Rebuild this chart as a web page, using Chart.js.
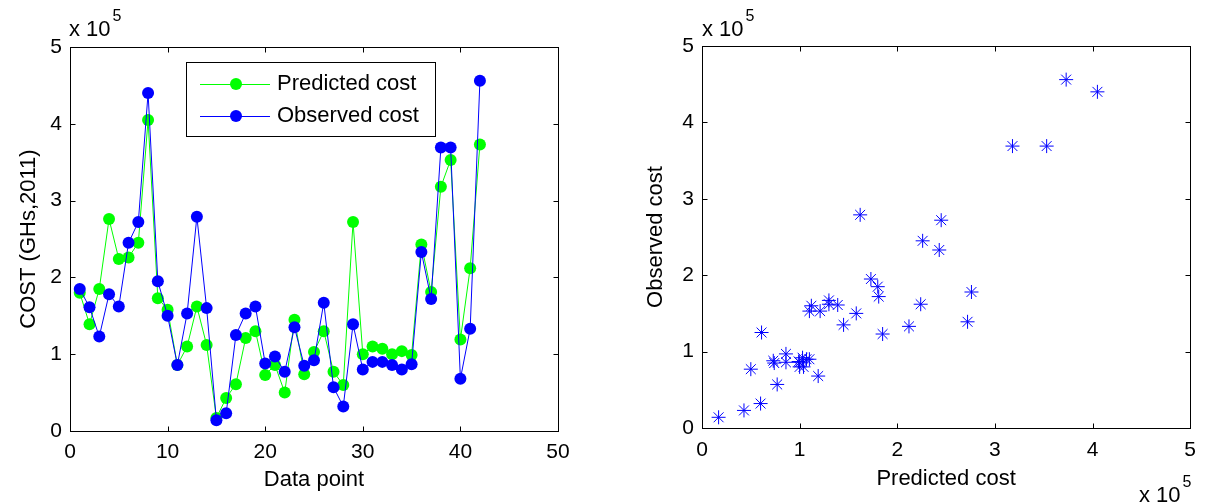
<!DOCTYPE html>
<html>
<head>
<meta charset="utf-8">
<title>Predicted vs observed cost</title>
<script src="https://cdn.jsdelivr.net/npm/chart.js@4.4.0/dist/chart.umd.min.js"></script>
<style>
    body { margin:0; background:#fff; }
    #zone { position:relative; width:1206px; height:504px; background:#fff; }
    #canvasGraph1 { position:absolute; left:0; top:0; }
    #canvasGraph2 { position:absolute; left:600px; top:0; }
</style>
</head>
<body>
<div id="zone">
    <canvas id="canvasGraph1" width="600" height="504"></canvas>
    <canvas id="canvasGraph2" width="606" height="504"></canvas>
</div>
<script>
// Numero du point de donnees
var dataPoint = [1,2,3,4,5,6,7,8,9,10,11,12,13,14,15,16,17,18,19,20,21,
                 22,23,24,25,26,27,28,29,30,31,32,33,34,35,36,37,38,39,40,41,42];

// Couts en x 10^5 (GHs, 2011)
var predictedCost = [1.80,1.39,1.85,2.76,2.24,2.26,2.45,4.05,1.73,1.58,0.86,1.10,1.62,1.12,0.17,0.43,0.61,1.21,1.30,0.73,0.86,
                     0.50,1.45,0.74,1.03,1.30,0.77,0.60,2.72,1.00,1.10,1.07,1.00,1.04,0.99,2.43,1.81,3.18,3.53,1.19,2.12,3.73];
var observedCost  = [1.85,1.61,1.23,1.78,1.62,2.45,2.72,4.40,1.95,1.50,0.86,1.53,2.79,1.60,0.14,0.23,1.25,1.53,1.62,0.88,0.97,
                     0.77,1.35,0.85,0.92,1.67,0.57,0.32,1.39,0.80,0.90,0.90,0.86,0.80,0.87,2.33,1.72,3.69,3.69,0.68,1.33,4.56];

// Graduations des axes
var ticksDataPoint = [0,10,20,30,40,50];
var ticksCost = [0,1,2,3,4,5];

Chart.defaults.font.family = "'Liberation Sans', Arial, sans-serif";
Chart.defaults.color = '#000';

// Cadre + petites graduations interieures (style MATLAB)
var pluginCadre = {
    id: 'cadre',
    afterDraw: function(chart)
    {
        var ctx = chart.ctx;
        var a = chart.chartArea;
        var sx = chart.scales.x;
        var sy = chart.scales.y;
        var l = Math.round(a.left) + 0.5, r = Math.round(a.right) + 0.5;
        var t = Math.round(a.top) + 0.5, b = Math.round(a.bottom) + 0.5;
        ctx.save();
        ctx.strokeStyle = '#000';
        ctx.lineWidth = 1;
        ctx.strokeRect(l, t, r - l, b - t);
        ctx.beginPath();
        sx.ticks.forEach(function(tk)
        {
            var px = Math.round(sx.getPixelForValue(tk.value)) + 0.5;
            ctx.moveTo(px, b); ctx.lineTo(px, b - 5);
            ctx.moveTo(px, t); ctx.lineTo(px, t + 5);
        });
        sy.ticks.forEach(function(tk)
        {
            var py = Math.round(sy.getPixelForValue(tk.value)) + 0.5;
            ctx.moveTo(l, py); ctx.lineTo(l + 5, py);
            ctx.moveTo(r, py); ctx.lineTo(r - 5, py);
        });
        ctx.stroke();

        // multiplicateurs "x 10^5"
        var exps = chart.options.plugins.cadre.exposants || [];
        exps.forEach(function(e)
        {
            ctx.fillStyle = '#000';
            ctx.textBaseline = 'alphabetic';
            ctx.textAlign = 'left';
            ctx.font = "22px 'Liberation Sans', Arial, sans-serif";
            ctx.fillText('x 10', e.x, e.y);
            var w = ctx.measureText('x 10').width;
            ctx.font = "16px 'Liberation Sans', Arial, sans-serif";
            ctx.fillText('5', e.x + w + 2, e.y - 15);
        });
        ctx.restore();
    }
};

// Legende dessinee a l'interieur du graphique 1
var pluginLegende = {
    id: 'legende',
    afterDraw: function(chart)
    {
        var ctx = chart.ctx;
        var ds = chart.data.datasets;
        ctx.save();
        ctx.fillStyle = '#fff';
        ctx.fillRect(186, 62, 249, 74);
        ctx.strokeStyle = '#000';
        ctx.lineWidth = 1;
        ctx.strokeRect(186.5, 62.5, 249, 74);
        for (var i = 0; i < ds.length; i++)
        {
            var y = 84 + i * 32;
            ctx.strokeStyle = ds[i].borderColor;
            ctx.beginPath();
            ctx.moveTo(200, y + 0.5);
            ctx.lineTo(270, y + 0.5);
            ctx.stroke();
            ctx.fillStyle = ds[i].pointBackgroundColor;
            ctx.beginPath();
            ctx.arc(236, y, 6, 0, Math.PI * 2);
            ctx.fill();
            ctx.fillStyle = '#000';
            ctx.font = "22px 'Liberation Sans', Arial, sans-serif";
            ctx.textBaseline = 'middle';
            ctx.textAlign = 'left';
            ctx.fillText(ds[i].label, 277, y);
        }
        ctx.restore();
    }
};

function fixerTicks(liste)
{
    return function(scale)
    {
        scale.ticks = liste.map(function(v) { return { value: v }; });
    };
}

function DessinerGraph1()
{
    var ptsPredicted = [];
    var ptsObserved = [];
    for (var i in dataPoint)
    {
        ptsPredicted.push({ x: dataPoint[i], y: predictedCost[i] });
        ptsObserved.push({ x: dataPoint[i], y: observedCost[i] });
    }

    var graphTarget = document.getElementById('canvasGraph1');
    new Chart(graphTarget, {
        type: 'line',
        data: {
            datasets: [
                {
                    label: 'Predicted cost',
                    data: ptsPredicted,
                    borderColor: '#00ff00',
                    backgroundColor: '#00ff00',
                    pointBackgroundColor: '#00ff00',
                    borderWidth: 1,
                    pointRadius: 6,
                    pointBorderWidth: 0,
                    tension: 0,
                    order: 1
                },
                {
                    label: 'Observed cost',
                    data: ptsObserved,
                    borderColor: '#0000ff',
                    backgroundColor: '#0000ff',
                    pointBackgroundColor: '#0000ff',
                    borderWidth: 1,
                    pointRadius: 6,
                    pointBorderWidth: 0,
                    tension: 0,
                    order: 0
                }
            ]
        },
        options: {
            responsive: false,
            animation: false,
            devicePixelRatio: 1,
            layout: { padding: { top: 47, right: 42, left: 0, bottom: 0 } },
            plugins: {
                legend: { display: false },
                tooltip: { enabled: false },
                cadre: { exposants: [ { x: 69, y: 36 } ] }
            },
            scales: {
                x: {
                    type: 'linear',
                    min: 0, max: 50,
                    afterBuildTicks: fixerTicks(ticksDataPoint),
                    grid: { display: false, drawTicks: false },
                    border: { display: false },
                    ticks: { font: { size: 21 }, padding: 9, maxRotation: 0 },
                    title: { display: true, text: 'Data point', font: { size: 22 }, padding: 11 },
                    afterFit: function(scale) { scale.height = 73; }
                },
                y: {
                    min: 0, max: 5,
                    afterBuildTicks: fixerTicks(ticksCost),
                    grid: { display: false, drawTicks: false },
                    border: { display: false },
                    ticks: { font: { size: 21 }, padding: 8 },
                    title: { display: true, text: 'COST (GHs,2011)', font: { size: 22 }, padding: 16 },
                    afterFit: function(scale) { scale.width = 70; }
                }
            }
        },
        plugins: [pluginCadre, pluginLegende]
    });
}

function DessinerGraph2()
{
    var pts = [];
    for (var i in predictedCost)
    {
        pts.push({ x: predictedCost[i], y: observedCost[i] });
    }

    var graphTarget = document.getElementById('canvasGraph2');
    new Chart(graphTarget, {
        type: 'scatter',
        data: {
            datasets: [
                {
                    label: 'Observed vs predicted',
                    data: pts,
                    pointStyle: 'star',
                    pointRadius: 7,
                    borderColor: '#0000ff',
                    backgroundColor: '#0000ff',
                    pointBorderWidth: 1
                }
            ]
        },
        options: {
            responsive: false,
            animation: false,
            devicePixelRatio: 1,
            layout: { padding: { top: 46, right: 13, left: 0, bottom: 0 } },
            plugins: {
                legend: { display: false },
                tooltip: { enabled: false },
                cadre: { exposants: [ { x: 102, y: 36 }, { x: 539, y: 502 } ] }
            },
            scales: {
                x: {
                    type: 'linear',
                    min: 0, max: 5,
                    afterBuildTicks: fixerTicks(ticksCost),
                    grid: { display: false, drawTicks: false },
                    border: { display: false },
                    ticks: { font: { size: 21 }, padding: 10, maxRotation: 0 },
                    title: { display: true, text: 'Predicted cost', font: { size: 22 }, padding: 12 },
                    afterFit: function(scale) { scale.height = 76; }
                },
                y: {
                    min: 0, max: 5,
                    afterBuildTicks: fixerTicks(ticksCost),
                    grid: { display: false, drawTicks: false },
                    border: { display: false },
                    ticks: { font: { size: 21 }, padding: 8 },
                    title: { display: true, text: 'Observed cost', font: { size: 22 }, padding: 43 },
                    afterFit: function(scale) { scale.width = 102; }
                }
            }
        },
        plugins: [pluginCadre]
    });
}

DessinerGraph1();
DessinerGraph2();
</script>
</body>
</html>
